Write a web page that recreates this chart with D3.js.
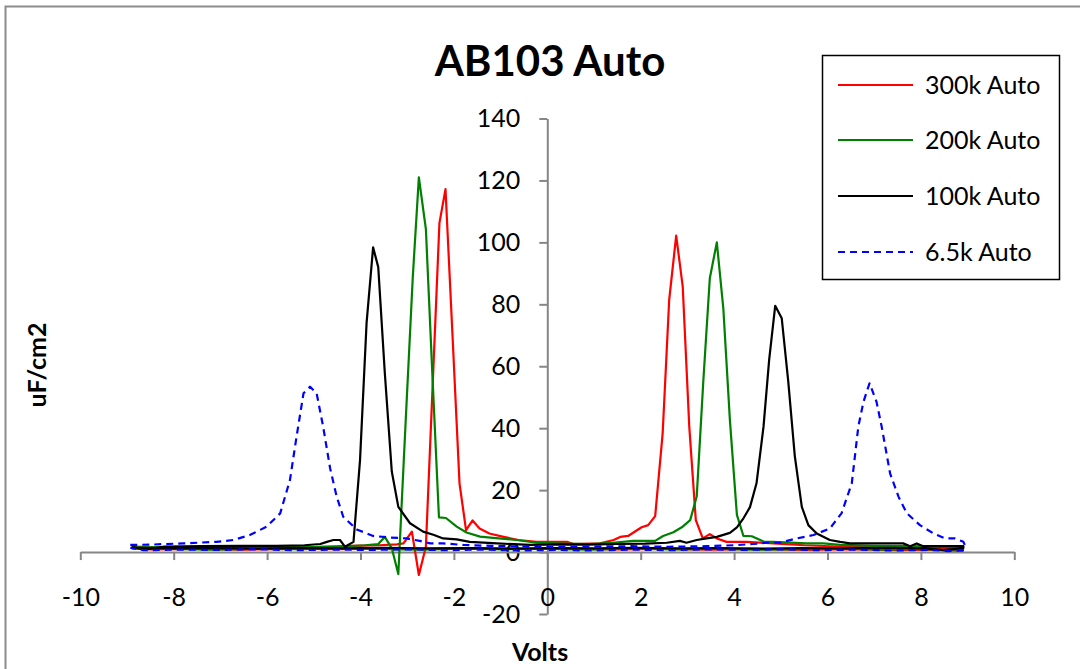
<!DOCTYPE html>
<html>
<head>
<meta charset="utf-8">
<script src="https://cdn.jsdelivr.net/npm/d3@7"></script>
<style>
  html, body { margin: 0; padding: 0; background: #fff; }
  svg { display: block; }
  text { font-family: Lato, "Open Sans", "Liberation Sans", sans-serif; fill: #000; }
</style>
</head>
<body>
<svg id="chart" width="1080" height="669"></svg>
<script>
// Capacitance (uF/cm2) versus bias (Volts); each sweep runs -9 V to +9 V along the
// upper trace and returns along the lower baseline.
const sweep300k = [
  [-8.9, 1.8], [-8.2, 1.5], [-7.4, 1.6], [-6.6, 1.4], [-5.8, 1.7], [-5.0, 1.6], [-4.2, 2.0],
  [-3.6, 2.2], [-3.22, 2.5], [-3.08, 2.8], [-2.90, 6.6], [-2.75, -7.4], [-2.60, 1.7],
  [-2.46, 52], [-2.31, 106.2], [-2.18, 117.2], [-2.03, 70], [-1.88, 22.2], [-1.74, 7.1],
  [-1.60, 10.2], [-1.45, 7.6], [-1.24, 6.0], [-0.96, 5.0], [-0.62, 3.9], [-0.23, 3.3],
  [0.42, 3.3], [0.56, 2.6], [1.13, 2.8], [1.42, 3.9], [1.56, 4.9], [1.73, 5.2], [2.02, 8.0],
  [2.16, 8.7], [2.31, 11.6], [2.47, 38.3], [2.61, 81.4], [2.76, 102.2], [2.90, 85.7],
  [3.04, 40.5], [3.18, 10.3], [3.33, 4.4], [3.48, 5.8], [3.63, 4.4], [3.84, 3.3], [4.27, 3.3],
  [4.84, 2.8], [5.5, 2.2], [6.2, 1.8], [7.0, 1.6], [7.8, 1.5], [8.5, 1.3], [8.9, 1.2],
  [8.9, 0.4], [8.2, 0.8], [7.5, 0.6], [6.5, 0.9], [5.5, 0.7], [4.5, 1.0], [3.5, 0.8],
  [2.5, 1.0], [1.5, 0.9], [0.5, 1.1], [-0.5, 1.0], [-1.5, 1.2], [-2.5, 1.0], [-3.5, 1.1],
  [-4.5, 0.9], [-5.5, 1.0], [-6.5, 0.8], [-7.5, 1.0], [-8.5, 0.9], [-8.9, 1.2]
];

const sweep200k = [
  [-8.9, 1.5], [-8.2, 1.6], [-7.4, 1.4], [-6.6, 1.7], [-5.8, 1.5], [-5.0, 1.6], [-4.4, 1.8],
  [-3.9, 2.2], [-3.62, 2.6], [-3.48, 4.9], [-3.33, 1.2], [-3.19, -7.1], [-3.04, 40],
  [-2.88, 88.9], [-2.75, 121], [-2.60, 104.3], [-2.46, 57], [-2.32, 11.2], [-2.17, 11.0],
  [-1.94, 8.2], [-1.73, 6.3], [-1.44, 5.0], [-1.16, 4.6], [-0.66, 3.9], [-0.23, 3.0],
  [0.4, 2.7], [0.91, 2.6], [1.4, 3.0], [1.84, 3.6], [2.31, 3.6], [2.48, 5.2], [2.70, 6.4],
  [2.88, 8.0], [3.06, 10.3], [3.20, 18], [3.34, 55], [3.48, 88.4], [3.63, 100.0],
  [3.77, 78.5], [3.91, 42.6], [4.06, 12.0], [4.20, 5.2], [4.38, 5.1], [4.63, 3.4],
  [4.84, 3.3], [5.55, 2.8], [5.91, 2.8], [6.27, 2.3], [7.0, 2.0], [7.8, 1.9], [8.5, 1.7],
  [8.9, 1.6],
  [8.9, 0.9], [8.48, 0.6], [8.0, 1.0], [7.2, 0.8], [6.3, 1.1], [5.4, 0.9], [4.5, 0.8],
  [3.6, 1.0], [2.7, 0.9], [1.8, 1.1], [0.9, 0.8], [0.0, 1.0], [-0.9, 0.9], [-1.8, 1.1],
  [-2.7, 0.8], [-3.6, 1.0], [-4.5, 1.1], [-5.4, 0.9], [-6.3, 1.0], [-7.2, 0.8],
  [-8.1, 1.0], [-8.9, 1.3]
];

const sweep100k = [
  [-8.9, 1.6], [-8.6, 0.8], [-8.2, 1.8], [-7.4, 1.9], [-6.6, 2.0], [-5.8, 2.0], [-5.2, 2.2],
  [-4.86, 2.6], [-4.72, 3.3], [-4.58, 3.9], [-4.44, 3.9], [-4.33, 1.7], [-4.15, 3.3],
  [-4.01, 29.7], [-3.87, 73.9], [-3.73, 98.4], [-3.62, 92], [-3.48, 58], [-3.33, 26],
  [-3.19, 14.6], [-2.94, 9.3], [-2.66, 6.6], [-2.44, 5.6], [-2.23, 4.4], [-1.94, 4.1],
  [-1.66, 3.3], [-1.08, 2.8], [-0.37, 2.3], [0.3, 2.5], [0.9, 2.4], [1.5, 2.6], [2.1, 2.7],
  [2.56, 3.0], [2.84, 3.6], [2.98, 3.0], [3.20, 3.9], [3.41, 4.4], [3.63, 4.9], [3.91, 6.2],
  [4.06, 8.0], [4.20, 10.9], [4.34, 14.5], [4.48, 22.2], [4.63, 40.5], [4.75, 62],
  [4.88, 79.5], [5.02, 75.5], [5.16, 55], [5.30, 31], [5.45, 14.6], [5.59, 8.7], [5.77, 6.0],
  [6.05, 3.9], [6.27, 3.3], [6.48, 2.8], [7.62, 2.8], [7.77, 1.9], [7.91, 2.8], [8.05, 1.9],
  [8.91, 1.9],
  [8.91, 1.3], [8.48, 0.6], [8.1, 1.2], [7.3, 1.4], [6.4, 1.2], [5.5, 1.3], [4.6, 1.1],
  [3.7, 1.3], [2.8, 1.2], [1.9, 1.4], [1.0, 1.2], [0.1, 1.3], [-0.8, 1.1], [-1.7, 1.3],
  [-2.6, 1.2], [-3.5, 1.4], [-4.4, 1.2], [-5.3, 1.3], [-6.2, 1.1], [-7.1, 1.3], [-8.0, 1.2],
  [-8.9, 1.4]
];

const sweep6k5 = [
  [-8.93, 2.3], [-8.5, 2.4], [-7.79, 2.8], [-7.08, 3.3], [-6.72, 3.9], [-6.37, 5.5],
  [-6.01, 8.2], [-5.72, 12.5], [-5.51, 23.3], [-5.37, 37.2], [-5.22, 51.3], [-5.08, 53.4],
  [-4.94, 51.3], [-4.80, 40.5], [-4.65, 27.0], [-4.51, 17.9], [-4.37, 11.4], [-4.08, 7.3],
  [-3.73, 5.2], [-3.37, 4.7], [-3.01, 4.4], [-2.73, 3.6], [-2.51, 2.8], [-2.23, 2.8],
  [-1.8, 2.3], [-1.2, 2.0], [-0.5, 1.8], [0.2, 1.6], [1.0, 1.8], [1.8, 1.9], [2.6, 1.7],
  [3.4, 1.9], [4.0, 2.2], [4.41, 2.6], [4.70, 3.0], [4.98, 3.0], [5.34, 4.4], [5.70, 5.5],
  [6.05, 7.6], [6.30, 12.5], [6.52, 22.2], [6.66, 40.5], [6.77, 48.5], [6.90, 54.5],
  [7.05, 48.5], [7.16, 40.5], [7.34, 25.4], [7.52, 17.9], [7.70, 12.5], [7.98, 8.7],
  [8.27, 6.0], [8.52, 4.4], [8.73, 4.4], [8.91, 3.3], [8.94, 2.3],
  [8.9, 0.6], [8.6, 0.3], [8.2, 0.7], [7.4, 0.5], [6.6, 0.8], [5.8, 0.6], [5.0, 0.9],
  [4.2, 0.7], [3.4, 0.9], [2.6, 0.6], [1.8, 0.8], [1.0, 0.5], [0.2, 0.7], [-0.6, 0.5],
  [-1.4, 0.8], [-2.2, 0.6], [-3.0, 0.9], [-3.8, 0.7], [-4.6, 0.8], [-5.4, 0.6],
  [-6.2, 0.9], [-7.0, 0.7], [-7.8, 0.8], [-8.65, 0.6], [-8.93, 1.4]
];

const seriesNames = ["300k Auto", "200k Auto", "100k Auto", "6.5k Auto"];
const seriesData = [sweep300k, sweep200k, sweep100k, sweep6k5];
const seriesColors = ["#ff0000", "#008000", "#000000", "#0000ff"];
const seriesDash = [null, null, null, "7,5"];

const xTicks = [-10, -8, -6, -4, -2, 0, 2, 4, 6, 8, 10];
const yTicks = [-20, 0, 20, 40, 60, 80, 100, 120, 140];

const svg = d3.select("#chart");

// chart frame
svg.append("rect")
  .attr("x", 5.5).attr("y", 6.5)
  .attr("width", 1090).attr("height", 680)
  .attr("fill", "#fff").attr("stroke", "#8c8c8c").attr("stroke-width", 2);

const x = d3.scaleLinear().domain([-10, 10]).range([80.3, 1014.3]);
const y = d3.scaleLinear().domain([-20, 140]).range([614, 118.5]);

const axisColor = "#868686";
const plainNumber = d => String(d);   // hyphen-minus labels

// y axis through x = 0
const yAxis = svg.append("g")
  .attr("transform", `translate(${x(0)},0)`)
  .call(d3.axisLeft(y).tickValues(yTicks).tickFormat(plainNumber)
    .tickSize(8).tickSizeOuter(0).tickPadding(19));

// x axis through y = 0
const xAxis = svg.append("g")
  .attr("transform", `translate(0,${y(0)})`)
  .call(d3.axisBottom(x).tickValues(xTicks).tickFormat(plainNumber)
    .tickSize(8).tickSizeOuter(0).tickPadding(28));

[xAxis, yAxis].forEach(g => {
  g.select(".domain").attr("stroke", axisColor).attr("stroke-width", 2);
  g.selectAll(".tick line").attr("stroke", axisColor).attr("stroke-width", 2);
  g.selectAll(".tick text")
    .attr("fill", "#000")
    .style("font-size", "25px")
    .style("font-family", "Lato, 'Open Sans', sans-serif");
});

// series lines
const line = d3.line().x(d => x(d[0])).y(d => y(d[1]));
seriesData.forEach((data, i) => {
  svg.append("path")
    .datum(data)
    .attr("d", line)
    .attr("fill", "none")
    .attr("stroke", seriesColors[i])
    .attr("stroke-width", 2.2)
    .attr("stroke-linejoin", "round")
    .attr("stroke-dasharray", seriesDash[i]);
});

// title
svg.append("text")
  .attr("x", 550).attr("y", 76)
  .attr("text-anchor", "middle")
  .style("font-size", "42px").style("font-weight", "bold")
  .text("AB103 Auto");

// axis titles
svg.append("text")
  .attr("x", 540).attr("y", 661)
  .attr("text-anchor", "middle")
  .style("font-size", "25px").style("font-weight", "bold")
  .text("Volts");

svg.append("text")
  .attr("transform", "translate(46,365) rotate(-90)")
  .attr("text-anchor", "middle")
  .style("font-size", "25px").style("font-weight", "bold")
  .text("uF/cm2");

// legend
const legend = svg.append("g");
legend.append("rect")
  .attr("x", 822.5).attr("y", 55.5)
  .attr("width", 237).attr("height", 224)
  .attr("fill", "#fff").attr("stroke", "#000").attr("stroke-width", 1.5);

const legendRows = [85, 140, 196, 252];
seriesNames.forEach((name, i) => {
  legend.append("line")
    .attr("x1", 838).attr("x2", 913)
    .attr("y1", legendRows[i]).attr("y2", legendRows[i])
    .attr("stroke", seriesColors[i])
    .attr("stroke-width", 2.2)
    .attr("stroke-dasharray", seriesDash[i]);
  legend.append("text")
    .attr("x", 925).attr("y", legendRows[i])
    .attr("dy", "0.35em")
    .style("font-size", "25px")
    .text(name);
});
</script>
</body>
</html>
